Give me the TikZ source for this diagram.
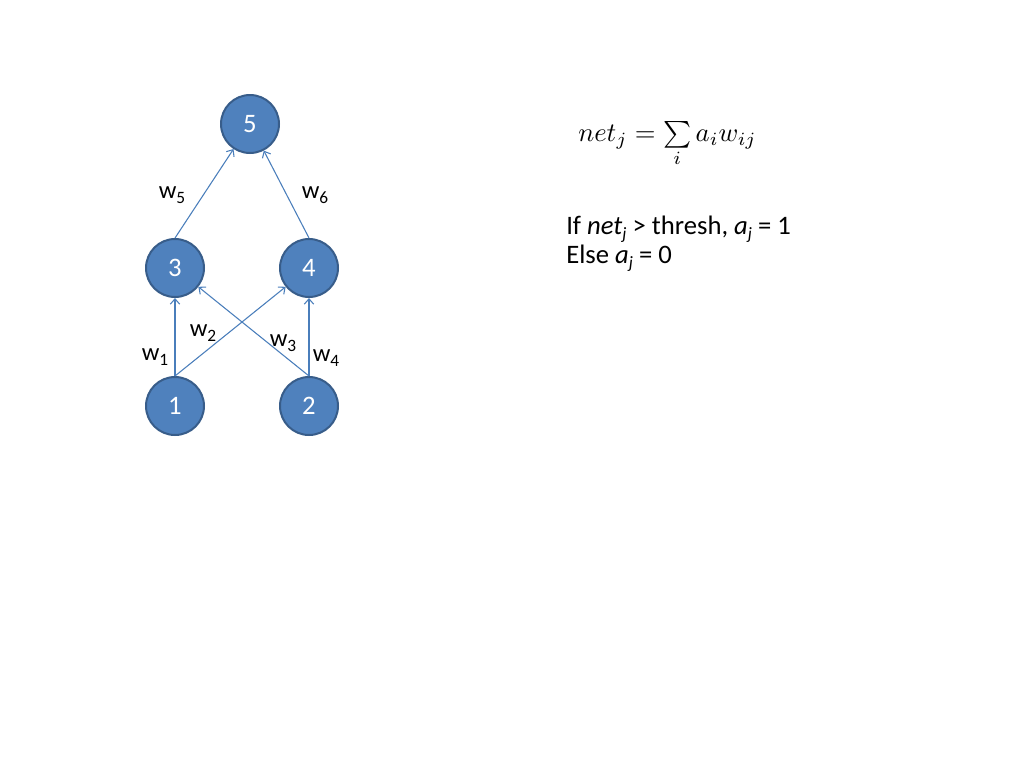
\documentclass[tikz,border=0pt]{standalone}
\usepackage{fontspec}
\setmainfont{Carlito}
\usetikzlibrary{arrows.meta}
\definecolor{nodefill}{HTML}{4F81BD}
\definecolor{nodeline}{HTML}{385D8A}
\definecolor{edgecol}{HTML}{4A7EBB}
\newcommand{\wsub}[1]{w\raisebox{-3.5pt}{\fontsize{13}{15}\selectfont #1}}
\newcommand{\tsub}[1]{\raisebox{-4pt}{\fontsize{13}{15}\selectfont #1}}
\begin{document}
\begin{tikzpicture}[x=0.75pt,y=-0.75pt,
  neuron/.style={circle, fill=nodefill, draw=nodeline, line width=1.5pt, minimum size=43.5pt, inner sep=0pt, text=white, font=\fontsize{20}{24}\selectfont},
  conn/.style={draw=edgecol, line width=0.8pt, -{Straight Barb[length=4pt,width=7pt]}},
  wlab/.style={font=\fontsize{18.5}{22}\selectfont, inner sep=0pt},
  txt/.style={font=\fontsize{20}{24}\selectfont, inner sep=0pt, anchor=base west}]
\useasboundingbox (0,0) rectangle (1024,768);
\node[neuron] (n5) at (250,124) {5};
\node[neuron] (n3) at (175,268) {3};
\node[neuron] (n4) at (309,268) {4};
\node[neuron] (n1) at (175,406) {1};
\node[neuron] (n2) at (309,406) {2};
\draw[conn] (n3.north) -- (n5);
\draw[conn] (n4.north) -- (n5);
\draw[conn] (n1.north) -- (n3);
\draw[conn] (n1.north) -- (n4);
\draw[conn] (n2.north) -- (n3);
\draw[conn] (n2.north) -- (n4);
\node[wlab] (w5) at (172,195) {\wsub{5}};
\node[wlab] (w6) at (315,195) {\wsub{6}};
\node[wlab] (w2) at (203,333) {\wsub{2}};
\node[wlab] (w3) at (283,343) {\wsub{3}};
\node[wlab] (w1) at (155,357) {\wsub{1}};
\node[wlab] (w4) at (326,358) {\wsub{4}};
\node[inner sep=0pt, anchor=base west] (f) at (578,141) {\scalebox{2.0}{$net_j = \sum\limits_i a_i w_{ij}$}};
\node[txt] (l1) at (566,234) {If \textit{net}\tsub{\textit{j}} > thresh, \textit{a}\tsub{\textit{j}} = 1};
\node[txt] (l2) at (566,263) {Else \textit{a}\tsub{\textit{j}} = 0};
\end{tikzpicture}
\end{document}
